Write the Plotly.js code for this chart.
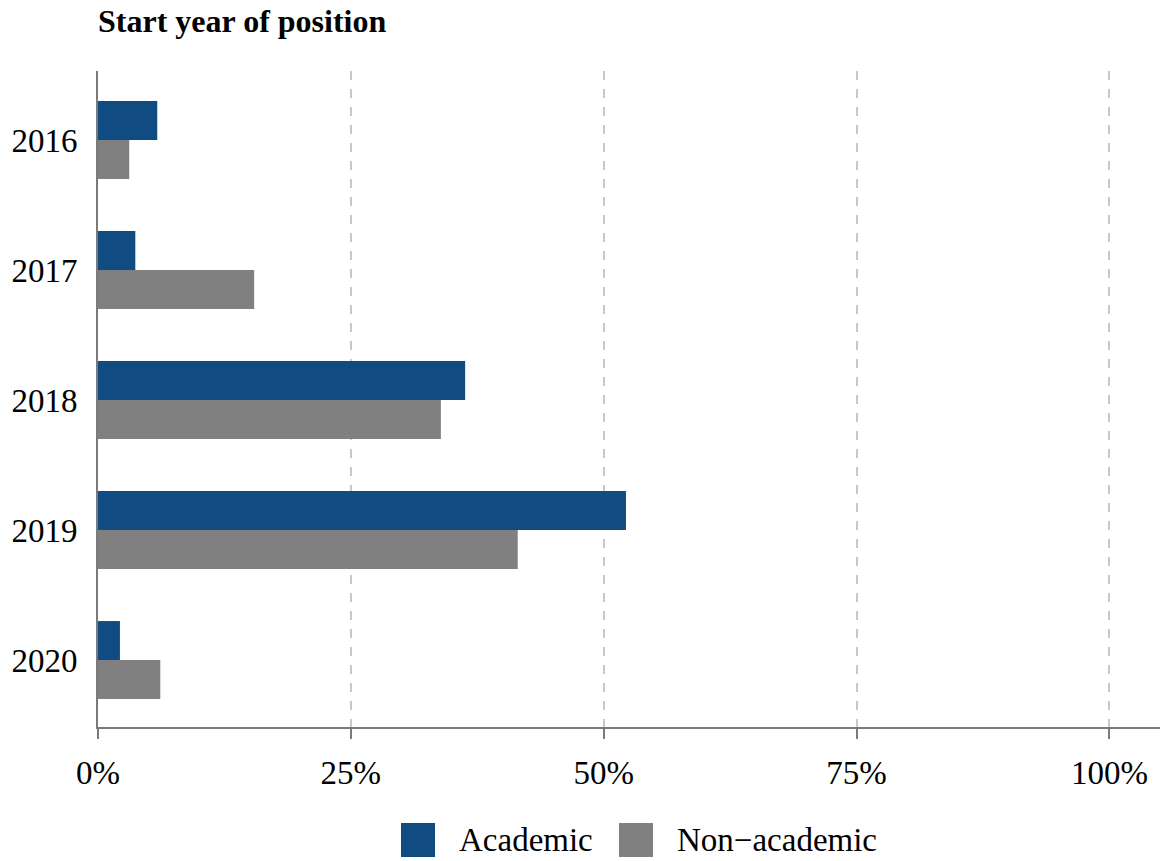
<!DOCTYPE html>
<html>
<head>
<meta charset="utf-8">
<script src="https://cdn.plot.ly/plotly-3.0.1.min.js"></script>
<style>html,body{margin:0;padding:0;background:#fff;}#chart{width:1161px;height:861px;}</style>
</head>
<body>
<div id="chart"></div>
<script>
// Data (percent of respondents by start year of position)
const years = ["2016", "2017", "2018", "2019", "2020"];
const academic = [5.86, 3.69, 36.3, 52.2, 2.17];
const nonAcademic = [3.09, 15.44, 33.9, 41.5, 6.16];
const seriesNames = ["Academic", "Non\u2212academic"];
const seriesColors = ["#104c81", "#808080"];
const xTicks = [0, 25, 50, 75, 100];
const xTickText = ["0%", "25%", "50%", "75%", "100%"];

const FONT = "Liberation Serif, Times New Roman, serif";

const traces = [
  {type: "bar", orientation: "h", name: seriesNames[0], y: years, x: academic,
   marker: {color: seriesColors[0], line: {width: 0}}, showlegend: false, hoverinfo: "x+y"},
  {type: "bar", orientation: "h", name: seriesNames[1], y: years, x: nonAcademic,
   marker: {color: seriesColors[1], line: {width: 0}}, showlegend: false, hoverinfo: "x+y"}
];

// custom legend (large square keys)
const W = 1062, H = 656, L = 98, T = 71;
function px(x) { return (x - L) / W; }
function py(y) { return (T + H - y) / H; }
const keyX = [401, 619];
const labelX = [457, 675];
const shapes = [];
const annotations = [];
for (let i = 0; i < seriesNames.length; i++) {
  shapes.push({type: "rect", xref: "paper", yref: "paper",
    x0: px(keyX[i]), x1: px(keyX[i] + 34), y0: py(857), y1: py(823),
    fillcolor: seriesColors[i], line: {width: 0}});
  annotations.push({xref: "paper", yref: "paper", x: px(labelX[i]), y: py(840),
    xanchor: "left", yanchor: "middle", showarrow: false, text: seriesNames[i],
    font: {family: FONT, size: 33, color: "#000"}});
}

const layout = {
  width: 1161, height: 861,
  margin: {l: L, r: 1, t: T, b: 861 - T - H, pad: 0},
  paper_bgcolor: "#fff", plot_bgcolor: "#fff",
  font: {family: FONT, size: 33, color: "#000"},
  title: {text: "<b>Start year of position</b>", xref: "paper", x: 0, xanchor: "left",
    yref: "container", y: 1 - 21 / 861, yanchor: "middle",
    font: {family: FONT, size: 32, color: "#000"}},
  barmode: "group", bargap: 0.4, bargroupgap: 0,
  showlegend: false,
  xaxis: {range: [0, 105], tickvals: xTicks, ticktext: xTickText,
    showgrid: true, gridcolor: "#c8c8c8", gridwidth: 2, griddash: "9px,9px",
    zeroline: false, showline: true, linecolor: "#7a7a7a", linewidth: 2,
    ticks: "outside", ticklen: 10, tickwidth: 2, tickcolor: "#7a7a7a",
    ticklabelstandoff: 5,
    tickfont: {family: FONT, size: 33, color: "#000"}, fixedrange: true},
  yaxis: {type: "category", range: [4.515, -0.531],
    showgrid: false, zeroline: false, showline: true, linecolor: "#7a7a7a", linewidth: 2,
    ticks: "", ticklabelstandoff: 12,
    tickfont: {family: FONT, size: 33, color: "#000"}, fixedrange: true},
  shapes: shapes,
  annotations: annotations
};

Plotly.newPlot("chart", traces, layout, {displayModeBar: false, staticPlot: true});
</script>
</body>
</html>
